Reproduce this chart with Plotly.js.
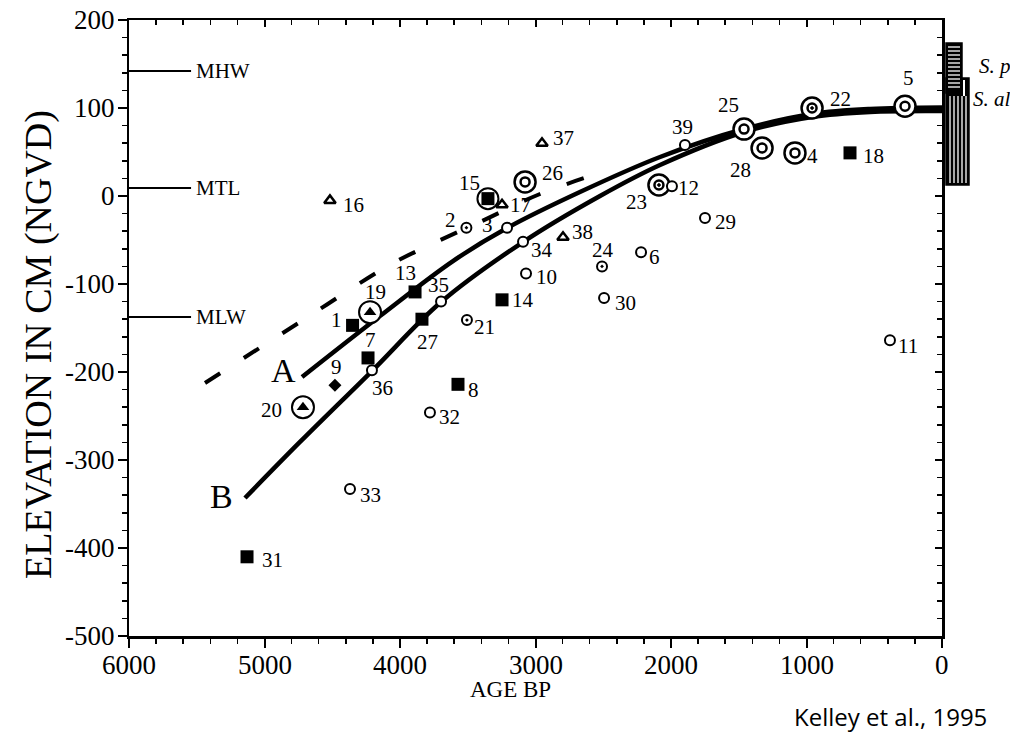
<!DOCTYPE html>
<html><head><meta charset="utf-8">
<script src="https://cdn.plot.ly/plotly-3.0.1.min.js"></script>
<style>html,body{margin:0;padding:0;background:#fff;overflow:hidden}#chart{width:1010px;height:748px;overflow:hidden}</style>
</head><body><div id="chart"></div><script>
// ---------------- data ----------------
const sampleIds = [1,2,3,4,5,6,7,8,9,10,11,12,13,14,15,16,17,18,19,20,21,22,23,24,25,26,27,28,29,30,31,32,33,34,35,36,37,38,39];
const sampleAge = [4350,3510,3210,1085,273,2221,4236,3572,4480,3070,384,1993,3889,3247,3351,4517,3247,679,4221,4716,3506,959,2089,2509,1461,3077,3838,1328,1749,2494,5129,3779,4369,3092,3697,4207,2952,2797,1897];
const sampleElev = [-147,-36,-36,49,102,-64,-184,-214,-215,-88,-164,11,-109,-118,-3,-5,-10,49,-132,-240,-141,100,12.5,-80,76,16,-140,54.5,-25,-116,-410,-246,-333,-52,-120,-198,60,-47,58];
// sq filled square, oc open circle, dc dotted circle, bc double circle, bd double circle with dot,
// ot open triangle, tc triangle in circle, di diamond, sc square in circle
const sampleType = ['sq','dc','oc','bc','bc','oc','sq','sq','di','oc','oc','oc','sq','sq','sc','ot','ot','sq','tc','tc','dc','bd','bd','dc','bc','bc','sq','bc','oc','oc','sq','oc','oc','oc','oc','oc','ot','ot','oc'];

const curveAAge  = [4723,4148,3609,3210,2672,2081,1461,959,531,0];
const curveAElev = [-205.7,-136.4,-73.9,-36.4,4.5,44.3,76.1,93.2,98.9,100.5];
const curveBAge  = [5144,4738,4207,3697,3092,2524,2081,1461,959,531,0];
const curveBElev = [-343.2,-279.5,-198.9,-120.5,-52.3,0,35.2,72.7,89.8,95.5,96.5];
const dashAge  = [5439,4738,4089,3764,3410,2967,2480];
const dashElev = [-212.5,-143.2,-79.5,-54.5,-29.5,2.3,28.5];

const tideNames = ['MHW','MTL','MLW'];
const tideElev  = [142, 9, -137.5];

const xTickVals = [6000,5000,4000,3000,2000,1000,0];
const xTickText = ['6000','5000','4000','3000','2000','1000','0'];
const yTickVals = [200,100,0,-100,-200,-300,-400,-500];
const yTickText = ['200','100','0','-100','-200','-300','-400','-500'];

// label offsets in screen pixels (dx right, dy down)
const labelOffset = {1:[-16,-5],2:[-16,-8],3:[-20,-3],4:[18,3],5:[3,-28],6:[13,5],7:[2,-18],8:[16,6],9:[2,-18],10:[20,4],
 11:[18,6],12:[17,2],13:[-10,-19],14:[21,0],15:[-18,-16],16:[24,5],17:[18,0],18:[23,3],19:[5,-20],20:[-31,3],
 21:[18,7],22:[28,-9],23:[-22,17],24:[1,-16],25:[-16,-24],26:[27,-9],27:[6,23],28:[-22,22],29:[20,4],30:[21,5],
 31:[25,3],32:[20,5],33:[20,6],34:[19,8],35:[-3,-17],36:[11,18],37:[21,-5],38:[19,-5],39:[-2,-18]};

// ---------------- layout geometry ----------------
const W = 1010, H = 748;
const M = {l:129, r:W-942, t:20, b:H-636};
const PW = W - M.l - M.r, PH = H - M.t - M.b;
const px2x = p => (p - M.l) / PW;
const px2y = p => (H - M.b - p) / PH;
const SERIF = 'Liberation Serif';

function pickAny(arr, ts){ return arr.filter((v,i)=>ts.includes(sampleType[i])); }

const traces = [];
traces.push({x:dashAge, y:dashElev, mode:'lines', line:{color:'#000', width:4, dash:'18px,28px', shape:'spline', smoothing:1}, hoverinfo:'skip', showlegend:false});
traces.push({x:curveAAge, y:curveAElev, mode:'lines', line:{color:'#000', width:4.5, shape:'spline', smoothing:1}, hoverinfo:'skip', showlegend:false});
traces.push({x:curveBAge, y:curveBElev, mode:'lines', line:{color:'#000', width:4.5, shape:'spline', smoothing:1}, hoverinfo:'skip', showlegend:false});

function mk(types, symbol, size, color, lw){
  traces.push({x:pickAny(sampleAge,types), y:pickAny(sampleElev,types), mode:'markers', hoverinfo:'skip', showlegend:false,
    marker:{symbol:symbol, size:size, color:color, line:{color:'#000', width:lw}}});
}
mk(['bc','bd'], 'circle', 21, '#fff', 2.5);
mk(['tc'], 'circle', 22, '#fff', 2);
mk(['sc'], 'circle', 21, 'rgba(255,255,255,0)', 2);
mk(['bc'], 'circle', 9, '#fff', 2.5);
mk(['bd'], 'circle-dot', 9, '#fff', 2.5);
mk(['tc'], 'triangle-up', 11, '#000', 0);
mk(['sc','sq'], 'square', 13, '#000', 0);
mk(['oc'], 'circle', 10, '#fff', 2);
mk(['dc'], 'circle-dot', 10, '#fff', 2);
mk(['ot'], 'triangle-up', 10, '#fff', 2.5);
mk(['di'], 'diamond', 10, '#000', 0);
traces.push({x:[], y:[], xaxis:'x2', yaxis:'y2', mode:'markers', hoverinfo:'skip', showlegend:false});

const annotations = [];
sampleIds.forEach((id,i)=>{
  const o = labelOffset[id];
  annotations.push({x:sampleAge[i], y:sampleElev[i], text:String(id), showarrow:false, xanchor:'center', yanchor:'middle',
    xshift:o[0], yshift:-o[1], font:{family:SERIF, size:21, color:'#000'}});
});
// tick labels (serif)
xTickVals.forEach((v,i)=>{
  annotations.push({x:v, xref:'x', yref:'paper', y:0, text:xTickText[i], showarrow:false, xanchor:'center', yanchor:'middle',
    yshift:-29, font:{family:SERIF, size:27, color:'#000'}});
});
yTickVals.forEach((v,i)=>{
  annotations.push({xref:'paper', x:0, yref:'y', y:v, text:yTickText[i], showarrow:false, xanchor:'right', yanchor:'middle',
    xshift:-12, font:{family:SERIF, size:27, color:'#000'}});
});
tideNames.forEach((n,i)=>{
  annotations.push({x:5520, y:tideElev[i], text:n, showarrow:false, xanchor:'left', yanchor:'middle',
    font:{family:SERIF, size:21, color:'#000'}});
});
annotations.push({x:4863, y:-198, text:'A', showarrow:false, font:{family:SERIF, size:34, color:'#000'}});
annotations.push({x:5314, y:-342, text:'B', showarrow:false, font:{family:SERIF, size:34, color:'#000'}});
annotations.push({xref:'paper', yref:'paper', x:px2x(38), y:px2y(345), text:'ELEVATION IN CM (NGVD)', textangle:-90, showarrow:false,
  xanchor:'center', yanchor:'middle', font:{family:SERIF, size:38, color:'#000'}});
annotations.push({xref:'paper', yref:'paper', x:px2x(510), y:px2y(690), text:'AGE BP', showarrow:false,
  xanchor:'center', yanchor:'middle', font:{family:SERIF, size:23, color:'#000'}});
annotations.push({xref:'paper', yref:'paper', x:px2x(890), y:px2y(716), text:'Kelley et al., 1995', showarrow:false,
  xanchor:'center', yanchor:'middle', font:{family:'Open Sans', size:24, color:'#000'}});
annotations.push({xref:'paper', yref:'paper', x:px2x(977), y:px2y(66), text:'<i>S. patens</i>', showarrow:false,
  xanchor:'left', yanchor:'middle', font:{family:SERIF, size:21, color:'#000'}});
annotations.push({xref:'paper', yref:'paper', x:px2x(971), y:px2y(99), text:'<i>S. alterniflora</i>', showarrow:false,
  xanchor:'left', yanchor:'middle', font:{family:SERIF, size:21, color:'#000'}});

const shapes = [];
tideElev.forEach(e=>{
  shapes.push({type:'line', xref:'x', yref:'y', x0:6000, x1:5542, y0:e, y1:e, line:{color:'#000', width:2}});
});
function rectPx(x0,x1,y0,y1,fill,lw){
  shapes.push({type:'rect', xref:'paper', yref:'paper', x0:px2x(x0), x1:px2x(x1), y0:px2y(y0), y1:px2y(y1),
    fillcolor:fill, line:{color:'#000', width:lw}, layer:'above'});
}
function linePx(x0,y0,x1,y1,col,w){
  shapes.push({type:'line', xref:'paper', yref:'paper', x0:px2x(x0), x1:px2x(x1), y0:px2y(y0), y1:px2y(y1),
    line:{color:col, width:w}, layer:'above'});
}
rectPx(946,969,78,185,'#000',1.5);
for(let xx=950; xx<=966; xx+=4) linePx(xx,96,xx,183,'#fff',1.3);
linePx(964,80,964,96,'#fff',2);
rectPx(946,962,43,93,'#000',1.5);
for(let yy=47; yy<=90; yy+=4) linePx(948,yy,960,yy,'#fff',1.3);

const layout = {
  width:W, height:H, margin:M, paper_bgcolor:'#fff', plot_bgcolor:'#fff', showlegend:false,
  font:{family:SERIF, size:20, color:'#000'},
  xaxis:{range:[6000,0], autorange:false, tickmode:'array', tickvals:xTickVals, showticklabels:false, ticks:'outside', ticklen:9, tickwidth:2,
    tickcolor:'#000', showline:true, linecolor:'#000', linewidth:2.5, mirror:true, showgrid:false, zeroline:false,
    minor:{tickmode:'linear', tick0:0, dtick:200, ticks:'outside', ticklen:5, tickwidth:1.5, tickcolor:'#000', showgrid:false}},
  yaxis:{range:[-500,200], autorange:false, tickmode:'array', tickvals:yTickVals, showticklabels:false, ticks:'outside', ticklen:9, tickwidth:2,
    tickcolor:'#000', showline:true, linecolor:'#000', linewidth:2.5, mirror:true, showgrid:false, zeroline:false,
    minor:{tickmode:'linear', tick0:0, dtick:20, ticks:'outside', ticklen:5, tickwidth:1.5, tickcolor:'#000', showgrid:false}},
  xaxis2:{range:[6000,0], autorange:false, overlaying:'x', side:'top', anchor:'y2', tickmode:'linear', tick0:0, dtick:1000, ticks:'inside', ticklen:7,
    tickwidth:2, tickcolor:'#000', showticklabels:false, showgrid:false, zeroline:false, showline:false,
    minor:{dtick:200, ticks:'inside', ticklen:5, tickwidth:1.5, tickcolor:'#000'}},
  yaxis2:{range:[-500,200], autorange:false, overlaying:'y', side:'right', anchor:'x2', tickmode:'linear', tick0:0, dtick:100, ticks:'inside', ticklen:7,
    tickwidth:2, tickcolor:'#000', showticklabels:false, showgrid:false, zeroline:false, showline:false,
    minor:{dtick:20, ticks:'inside', ticklen:5, tickwidth:1.5, tickcolor:'#000'}},
  annotations:annotations, shapes:shapes
};
Plotly.newPlot('chart', traces, layout, {staticPlot:true, displayModeBar:false});
</script></body></html>
